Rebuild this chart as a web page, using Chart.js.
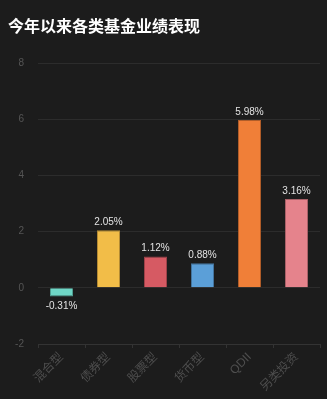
<!DOCTYPE html>
<html>
<head>
<meta charset="utf-8">
<script src="https://cdn.jsdelivr.net/npm/chart.js@4/dist/chart.umd.min.js"></script>
<style>
  html, body { margin: 0; padding: 0; background: #1c1c1c; }
  #wrap { width: 327px; height: 399px; }
</style>
</head>
<body>
<div id="wrap"><canvas id="myChart"></canvas></div>
<script>
// data
const categories = ['混合型', '债券型', '股票型', '货币型', 'QDII', '另类投资'];
const returns = [-0.31, 2.05, 1.12, 0.88, 5.98, 3.16];
const bar_colors = ['#6fd6c6', '#f2bd48', '#d65a63', '#5b9fd8', '#f07f38', '#e5838c'];
const border_colors = ['#4f9d90', '#b38a33', '#9d4249', '#43739d', '#b05d29', '#a86067'];

const FONT = '"Liberation Sans", "Noto Sans CJK SC", sans-serif';

// draw the % text over (or under) each bar
const valueLabels = {
    id: 'valueLabels',
    afterDatasetsDraw(chart) {
        const ctx = chart.ctx;
        const meta = chart.getDatasetMeta(0);
        ctx.save();
        ctx.font = '10px ' + FONT;
        ctx.fillStyle = '#e2e2e2';
        ctx.textAlign = 'center';
        meta.data.forEach(function (bar, i) {
            const v = chart.data.datasets[0].data[i];
            const txt = v.toFixed(2) + '%';
            if (v >= 0) {
                ctx.textBaseline = 'bottom';
                ctx.fillText(txt, bar.x, bar.y - 3);
            } else {
                ctx.textBaseline = 'top';
                ctx.fillText(txt, bar.x, bar.y + 5);
            }
        });
        ctx.restore();
    }
};

const ctx = document.getElementById('myChart').getContext('2d');
const myChart = new Chart(ctx, {
    type: 'bar',
    data: {
        labels: categories,
        datasets: [{
            data: returns,
            backgroundColor: bar_colors,
            borderColor: border_colors,
            borderWidth: 1,
            categoryPercentage: 1,
            barPercentage: 0.49
        }]
    },
    options: {
        responsive: true,
        maintainAspectRatio: false,
        animation: false,
        layout: { padding: { left: 8, right: 7, top: 0, bottom: 0 } },
        plugins: {
            legend: { display: false },
            tooltip: { enabled: false },
            title: {
                display: true,
                text: '今年以来各类基金业绩表现',
                align: 'start',
                color: '#ffffff',
                font: { size: 16, weight: 'bold', family: FONT },
                padding: { top: 18, bottom: 26 }
            }
        },
        scales: {
            y: {
                min: -2,
                max: 8,
                ticks: {
                    stepSize: 2,
                    color: '#555555',
                    padding: 14,
                    font: { size: 10, family: FONT }
                },
                grid: { color: '#2c2c2c', drawTicks: false },
                border: { display: false },
                afterFit: function (scale) { scale.width = 30; }
            },
            x: {
                ticks: {
                    color: '#4e4e4e',
                    minRotation: 45,
                    maxRotation: 45,
                    padding: 2,
                    font: { size: 12, family: FONT }
                },
                grid: { drawOnChartArea: false, color: '#333333', tickLength: 4 },
                border: { color: '#333333' },
                afterFit: function (scale) { scale.height = 55; }
            }
        }
    },
    plugins: [valueLabels]
});
</script>
</body>
</html>
